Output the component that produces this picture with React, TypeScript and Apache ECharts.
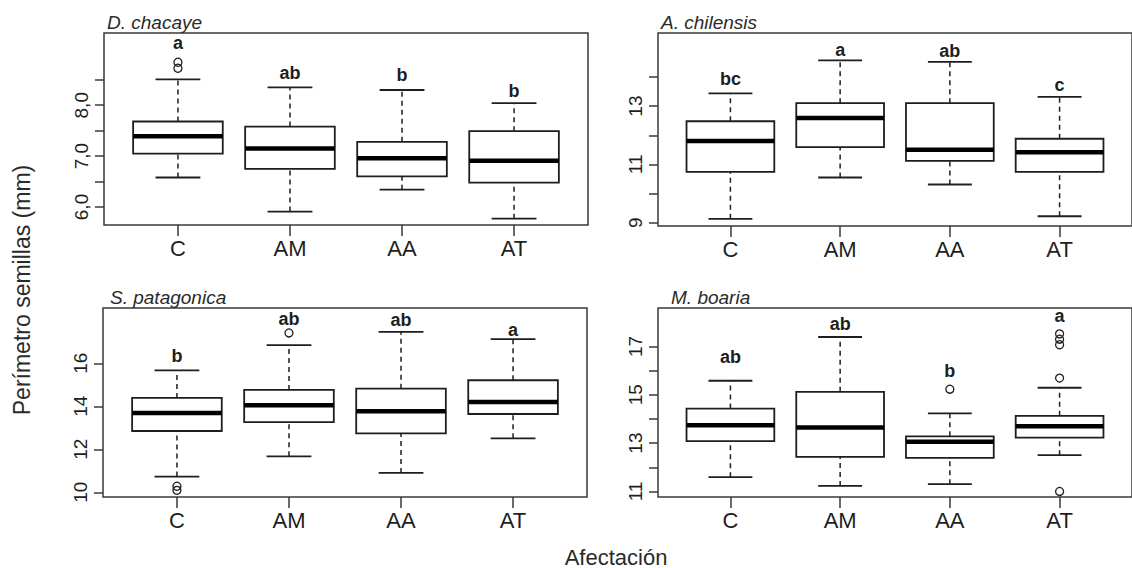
import React, { useEffect, useRef } from "react";
import * as echarts from "echarts";

// ---------- DATA ----------
const categories = ["C", "AM", "AA", "AT"];

// [min whisker, Q1, median, Q3, max whisker]
const chacayeStats = [
  [6.58, 7.05, 7.39, 7.68, 8.51],
  [5.91, 6.75, 7.15, 7.58, 8.35],
  [6.34, 6.6, 6.96, 7.28, 8.3],
  [5.77, 6.48, 6.91, 7.49, 8.04],
];
const chacayeOutliers = [[1, 8.845], [1, 8.727]];
const chacayeLetters = ["a", "ab", "b", "b"];
const chacayeLetterY = [9.22, 8.64, 8.6, 8.28];
const chacayeTicks = [6, 6.5, 7, 7.5, 8, 8.5];
const chacayeTickLabels = [6, 7, 8];

const chilensisStats = [
  [9.13, 10.74, 11.8, 12.48, 13.44],
  [10.55, 11.59, 12.59, 13.1, 14.57],
  [10.31, 11.12, 11.5, 13.1, 14.52],
  [9.22, 10.74, 11.42, 11.88, 13.32],
];
const chilensisOutliers: number[][] = [];
const chilensisLetters = ["bc", "a", "ab", "c"];
const chilensisLetterY = [13.94, 14.94, 14.88, 13.74];
const chilensisTicks = [9, 10, 11, 12, 13, 14];
const chilensisTickLabels = [9, 11, 13];

const patagonicaStats = [
  [10.73, 12.85, 13.69, 14.39, 15.67],
  [11.67, 13.26, 14.05, 14.76, 16.84],
  [10.9, 12.74, 13.77, 14.82, 17.46],
  [12.51, 13.64, 14.2, 15.21, 17.12],
];
const patagonicaOutliers = [[1, 10.28], [1, 10.09], [2, 17.41]];
const patagonicaLetters = ["b", "ab", "ab", "a"];
const patagonicaLetterY = [16.33, 18.06, 18.03, 17.57];
const patagonicaTicks = [10, 12, 14, 16];
const patagonicaTickLabels = [10, 12, 14, 16];

const boariaStats = [
  [11.59, 13.08, 13.74, 14.43, 15.58],
  [11.23, 12.43, 13.65, 15.12, 17.39],
  [11.3, 12.39, 13.06, 13.28, 14.23],
  [12.5, 13.23, 13.7, 14.13, 15.29],
];
const boariaOutliers = [[3, 15.23], [4, 15.69], [4, 17.52], [4, 17.3], [4, 17.07], [4, 11.0]];
const boariaLetters = ["ab", "ab", "b", "a"];
const boariaLetterY = [16.56, 17.92, 15.99, 18.24];
const boariaTicks = [11, 12, 13, 14, 15, 16, 17];
const boariaTickLabels = [11, 13, 15, 17];

const yLabel = "Perímetro semillas (mm)";
const xLabel = "Afectación";

// ---------- STYLE ----------
const FONT = "'Liberation Sans', Arial, Helvetica, sans-serif";
const INK = "#1e1e1e";
const FRAME = "#3a3a3a";

type Panel = {
  title: string;
  titleX: number;
  grid: { left: number; top: number; width: number; height: number };
  yMin: number;
  yMax: number;
  stats: number[][];
  outliers: number[][];
  letters: string[];
  letterY: number[];
  ticks: number[];
  tickLabels: number[];
  fmt: (v: number) => string;
};

const panels: Panel[] = [
  {
    title: "D. chacaye", titleX: 107,
    grid: { left: 104, top: 33, width: 484, height: 192 },
    yMin: 5.646, yMax: 9.42,
    stats: chacayeStats, outliers: chacayeOutliers, letters: chacayeLetters, letterY: chacayeLetterY,
    ticks: chacayeTicks, tickLabels: chacayeTickLabels,
    fmt: (v) => v.toFixed(1).replace(".", ","),
  },
  {
    title: "A. chilensis", titleX: 661,
    grid: { left: 658, top: 33, width: 484, height: 193 },
    yMin: 8.885, yMax: 15.51,
    stats: chilensisStats, outliers: chilensisOutliers, letters: chilensisLetters, letterY: chilensisLetterY,
    ticks: chilensisTicks, tickLabels: chilensisTickLabels,
    fmt: (v) => String(Math.round(v)),
  },
  {
    title: "S. patagonica", titleX: 110,
    grid: { left: 103, top: 308, width: 484, height: 189 },
    yMin: 9.78, yMax: 18.57,
    stats: patagonicaStats, outliers: patagonicaOutliers, letters: patagonicaLetters, letterY: patagonicaLetterY,
    ticks: patagonicaTicks, tickLabels: patagonicaTickLabels,
    fmt: (v) => String(Math.round(v)),
  },
  {
    title: "M. boaria", titleX: 671,
    grid: { left: 658, top: 308, width: 484, height: 189 },
    yMin: 10.77, yMax: 18.59,
    stats: boariaStats, outliers: boariaOutliers, letters: boariaLetters, letterY: boariaLetterY,
    ticks: boariaTicks, tickLabels: boariaTickLabels,
    fmt: (v) => String(Math.round(v)),
  },
];

function buildOption() {
  const grid: any[] = [];
  const xAxis: any[] = [];
  const yAxis: any[] = [];
  const series: any[] = [];
  const graphic: any[] = [];

  panels.forEach((p, i) => {
    grid.push({
      ...p.grid,
      show: true,
      borderColor: FRAME,
      borderWidth: 1.5,
      backgroundColor: "transparent",
      containLabel: false,
    });
    xAxis.push({
      type: "value",
      gridIndex: i,
      min: 0.34,
      max: 4.66,
      axisLine: { show: false },
      splitLine: { show: false },
      axisTick: {
        show: true,
        customValues: [1, 2, 3, 4],
        length: 11,
        lineStyle: { color: FRAME, width: 1.5 },
      },
      axisLabel: {
        customValues: [1, 2, 3, 4],
        formatter: (v: number) => categories[Math.round(v) - 1] ?? "",
        fontSize: 22,
        fontFamily: FONT,
        color: INK,
        margin: 12,
      },
    });
    yAxis.push({
      type: "value",
      gridIndex: i,
      min: p.yMin,
      max: p.yMax,
      axisLine: { show: false },
      splitLine: { show: false },
      axisTick: {
        show: true,
        customValues: p.ticks,
        length: 9,
        lineStyle: { color: FRAME, width: 1.5 },
      },
      axisLabel: {
        customValues: p.tickLabels,
        formatter: (v: number) => p.fmt(v),
        rotate: 90,
        fontSize: 19,
        fontFamily: FONT,
        color: INK,
        margin: 13,
      },
    });

    // boxes
    series.push({
      type: "custom",
      xAxisIndex: i,
      yAxisIndex: i,
      encode: { x: 0, y: [1, 2, 3, 4, 5] },
      data: p.stats.map((s, k) => [k + 1, ...s]),
      renderItem: (params: any, api: any) => {
        const x = api.value(0);
        const lo = api.coord([x, api.value(1)]);
        const q1 = api.coord([x, api.value(2)]);
        const md = api.coord([x, api.value(3)]);
        const q3 = api.coord([x, api.value(4)]);
        const hi = api.coord([x, api.value(5)]);
        const w = api.size([0.8, 0])[0];
        const cx = lo[0];
        const dash = { stroke: INK, lineWidth: 1.5, lineDash: [5, 4] };
        const solid = { stroke: INK, lineWidth: 1.8 };
        return {
          type: "group",
          children: [
            { type: "line", shape: { x1: cx, y1: q3[1], x2: cx, y2: hi[1] }, style: dash },
            { type: "line", shape: { x1: cx, y1: lo[1], x2: cx, y2: q1[1] }, style: dash },
            { type: "line", shape: { x1: cx - w / 4, y1: hi[1], x2: cx + w / 4, y2: hi[1] }, style: solid },
            { type: "line", shape: { x1: cx - w / 4, y1: lo[1], x2: cx + w / 4, y2: lo[1] }, style: solid },
            {
              type: "rect",
              shape: { x: cx - w / 2, y: q3[1], width: w, height: q1[1] - q3[1] },
              style: { fill: "#fff", stroke: INK, lineWidth: 1.8 },
            },
            {
              type: "line",
              shape: { x1: cx - w / 2, y1: md[1], x2: cx + w / 2, y2: md[1] },
              style: { stroke: "#000", lineWidth: 4.5 },
            },
          ],
        };
      },
      z: 2,
    });

    // outliers
    series.push({
      type: "scatter",
      xAxisIndex: i,
      yAxisIndex: i,
      data: p.outliers,
      symbol: "circle",
      symbolSize: 8,
      itemStyle: { color: "none", borderColor: INK, borderWidth: 1.3, opacity: 1 },
      z: 3,
    });

    // letters
    series.push({
      type: "custom",
      xAxisIndex: i,
      yAxisIndex: i,
      encode: { x: 0, y: 1 },
      data: p.letterY.map((y, k) => [k + 1, y]),
      renderItem: (params: any, api: any) => {
        const pt = api.coord([api.value(0), api.value(1)]);
        return {
          type: "text",
          x: pt[0],
          y: pt[1],
          style: {
            text: p.letters[params.dataIndex],
            fontSize: 18,
            fontWeight: "bold",
            fontFamily: FONT,
            fill: INK,
            align: "center",
            verticalAlign: "middle",
            textAlign: "center",
            textVerticalAlign: "middle",
          },
        };
      },
      z: 4,
    });

    graphic.push({
      type: "text",
      x: p.titleX,
      y: p.grid.top - 1,
      style: {
        text: p.title,
        fontSize: 19,
        fontStyle: "italic",
        fontFamily: FONT,
        fill: "#2a2a2a",
        align: "left",
        verticalAlign: "bottom",
        textAlign: "left",
        textVerticalAlign: "bottom",
      },
    });
  });

  graphic.push({
    type: "text",
    x: 22,
    y: 290,
    rotation: Math.PI / 2,
    style: {
      text: yLabel,
      fontSize: 23,
      fontFamily: FONT,
      fill: "#2a2a2a",
      align: "center",
      verticalAlign: "middle",
      textAlign: "center",
      textVerticalAlign: "middle",
    },
  });
  graphic.push({
    type: "text",
    x: 616,
    y: 557,
    style: {
      text: xLabel,
      fontSize: 22,
      fontFamily: FONT,
      fill: "#2a2a2a",
      align: "center",
      verticalAlign: "middle",
      textAlign: "center",
      textVerticalAlign: "middle",
    },
  });

  return {
    animation: false,
    backgroundColor: "#fff",
    textStyle: { fontFamily: FONT },
    grid,
    xAxis,
    yAxis,
    series,
    graphic,
  };
}

export default function App() {
  const ref = useRef<HTMLDivElement>(null);
  useEffect(() => {
    if (!ref.current) return;
    const chart = echarts.init(ref.current, undefined, { renderer: "svg" });
    chart.setOption(buildOption() as any);
    return () => chart.dispose();
  }, []);
  return (
    <div
      ref={ref}
      style={{ position: "fixed", left: 0, top: 0, width: 1132, height: 568, background: "#fff" }}
    />
  );
}
